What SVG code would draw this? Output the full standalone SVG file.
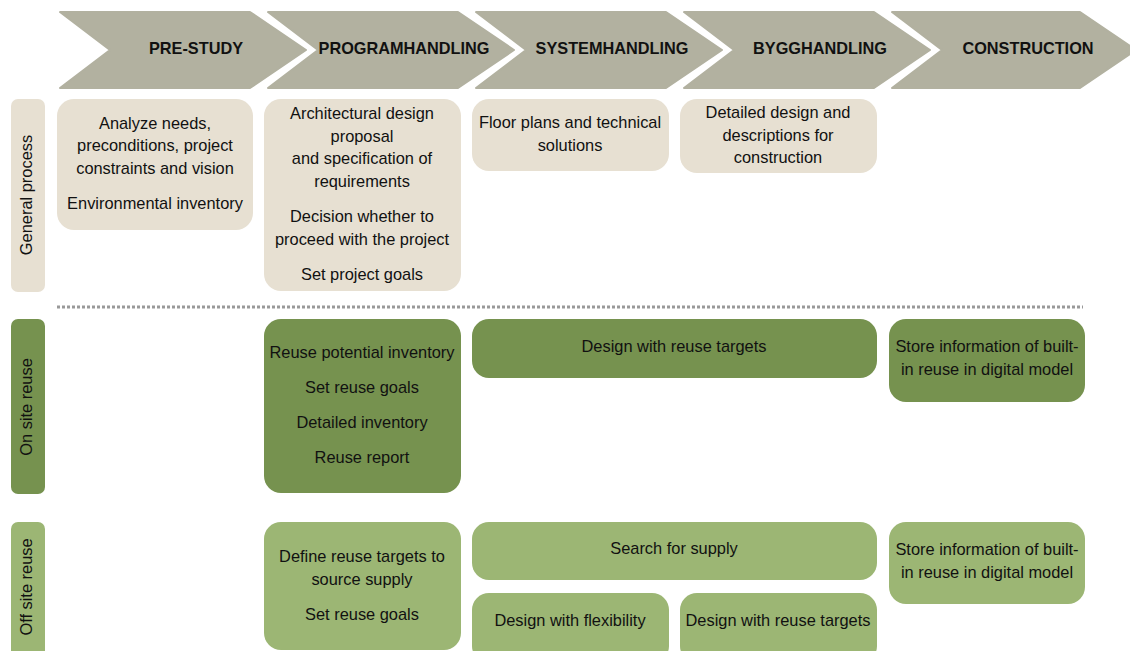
<svg xmlns="http://www.w3.org/2000/svg" width="1130" height="651" viewBox="0 0 1130 651">
<style>
.chev{fill:#B2B1A0;stroke:#B2B1A0;stroke-width:2;stroke-linejoin:round}
.ph{font-family:"Liberation Sans",Arial,sans-serif;font-weight:bold;font-size:16.3px;fill:#111;text-anchor:middle}
.t{font-family:"Liberation Sans",Arial,sans-serif;font-size:16.4px;fill:#111;text-anchor:middle}
.beige{fill:#E7E0D2}
.dark{fill:#76924F}
.light{fill:#9CB674}
</style>
<rect width="1130" height="651" fill="#fff"/>
<g id="phases">
<g id="phase-prestudy"><path class="chev" d="M60,12 L250,12 L306,50 L250,88 L60,88 L110,50 Z"/><text class="ph" x="196" y="54">PRE-STUDY</text></g>
<g id="phase-programhandling"><path class="chev" d="M268,12 L458,12 L514,50 L458,88 L268,88 L318,50 Z"/><text class="ph" x="404" y="54">PROGRAMHANDLING</text></g>
<g id="phase-systemhandling"><path class="chev" d="M476,12 L666,12 L722,50 L666,88 L476,88 L526,50 Z"/><text class="ph" x="612" y="54">SYSTEMHANDLING</text></g>
<g id="phase-bygghandling"><path class="chev" d="M684,12 L874,12 L930,50 L874,88 L684,88 L734,50 Z"/><text class="ph" x="820" y="54">BYGGHANDLING</text></g>
<g id="phase-construction"><path class="chev" d="M892,12 L1080,12 L1136,50 L1080,88 L892,88 L942,50 Z"/><text class="ph" x="1028" y="54">CONSTRUCTION</text></g>
</g>
<g id="lane-general"><rect class="beige" x="11" y="99" width="34" height="193" rx="7"/><text class="t" transform="translate(32,195) rotate(-90)" x="0" y="0">General process</text></g>
<g id="lane-onsite"><rect class="dark" x="11" y="319" width="34" height="175" rx="7"/><text class="t" transform="translate(32,407) rotate(-90)" x="0" y="0">On site reuse</text></g>
<g id="lane-offsite"><rect class="light" x="11" y="522" width="34" height="140" rx="7"/><text class="t" transform="translate(32,587) rotate(-90)" x="0" y="0">Off site reuse</text></g>
<g id="connectors">
<line x1="57" y1="307" x2="1083" y2="307" stroke="#999" stroke-width="3" stroke-dasharray="3,2"/>
</g>
<g id="gp-prestudy"><rect class="beige" x="57" y="99" width="196" height="131" rx="17"/>
<text class="t" x="155" y="128.5">Analyze needs,</text><text class="t" x="155" y="150.5">preconditions, project</text><text class="t" x="155" y="173.5">constraints and vision</text><text class="t" x="155" y="208.5">Environmental inventory</text></g>
<g id="gp-program"><rect class="beige" x="264" y="99" width="197" height="192" rx="17"/>
<text class="t" x="362" y="118.5">Architectural design</text><text class="t" x="362" y="141.5">proposal</text><text class="t" x="362" y="163.5">and specification of</text><text class="t" x="362" y="186.5">requirements</text><text class="t" x="362" y="221.5">Decision whether to</text><text class="t" x="362" y="244.5">proceed with the project</text><text class="t" x="362" y="279.5">Set project goals</text></g>
<g id="gp-system"><rect class="beige" x="472" y="99" width="197" height="72" rx="17"/>
<text class="t" x="570" y="127.5">Floor plans and technical</text><text class="t" x="570" y="150.5">solutions</text></g>
<g id="gp-bygg"><rect class="beige" x="680" y="99" width="197" height="74" rx="17"/>
<text class="t" x="778" y="117.5">Detailed design and</text><text class="t" x="778" y="140.5">descriptions for</text><text class="t" x="778" y="162.5">construction</text></g>
<g id="on-program"><rect class="dark" x="264" y="319" width="197" height="174" rx="17"/>
<text class="t" x="362" y="357.5">Reuse potential inventory</text><text class="t" x="362" y="392.5">Set reuse goals</text><text class="t" x="362" y="427.5">Detailed inventory</text><text class="t" x="362" y="462.5">Reuse report</text></g>
<g id="on-design"><rect class="dark" x="472" y="319" width="405" height="59" rx="17"/>
<text class="t" x="674" y="351.5">Design with reuse targets</text></g>
<g id="on-store"><rect class="dark" x="889" y="319" width="196" height="83" rx="17"/>
<text class="t" x="987" y="351.5">Store information of built-</text><text class="t" x="987" y="374.5">in reuse in digital model</text></g>
<g id="off-program"><rect class="light" x="264" y="522" width="197" height="128" rx="17"/>
<text class="t" x="362" y="561.5">Define reuse targets to</text><text class="t" x="362" y="584.5">source supply</text><text class="t" x="362" y="619.5">Set reuse goals</text></g>
<g id="off-search"><rect class="light" x="472" y="522" width="405" height="58" rx="17"/>
<text class="t" x="674" y="553.5">Search for supply</text></g>
<g id="off-store"><rect class="light" x="889" y="522" width="196" height="82" rx="17"/>
<text class="t" x="987" y="554.5">Store information of built-</text><text class="t" x="987" y="577.5">in reuse in digital model</text></g>
<g id="off-flex"><rect class="light" x="472" y="593" width="197" height="70" rx="17"/>
<text class="t" x="570" y="625.5">Design with flexibility</text></g>
<g id="off-reuse"><rect class="light" x="680" y="593" width="197" height="70" rx="17"/>
<text class="t" x="778" y="625.5">Design with reuse targets</text></g>
</svg>
